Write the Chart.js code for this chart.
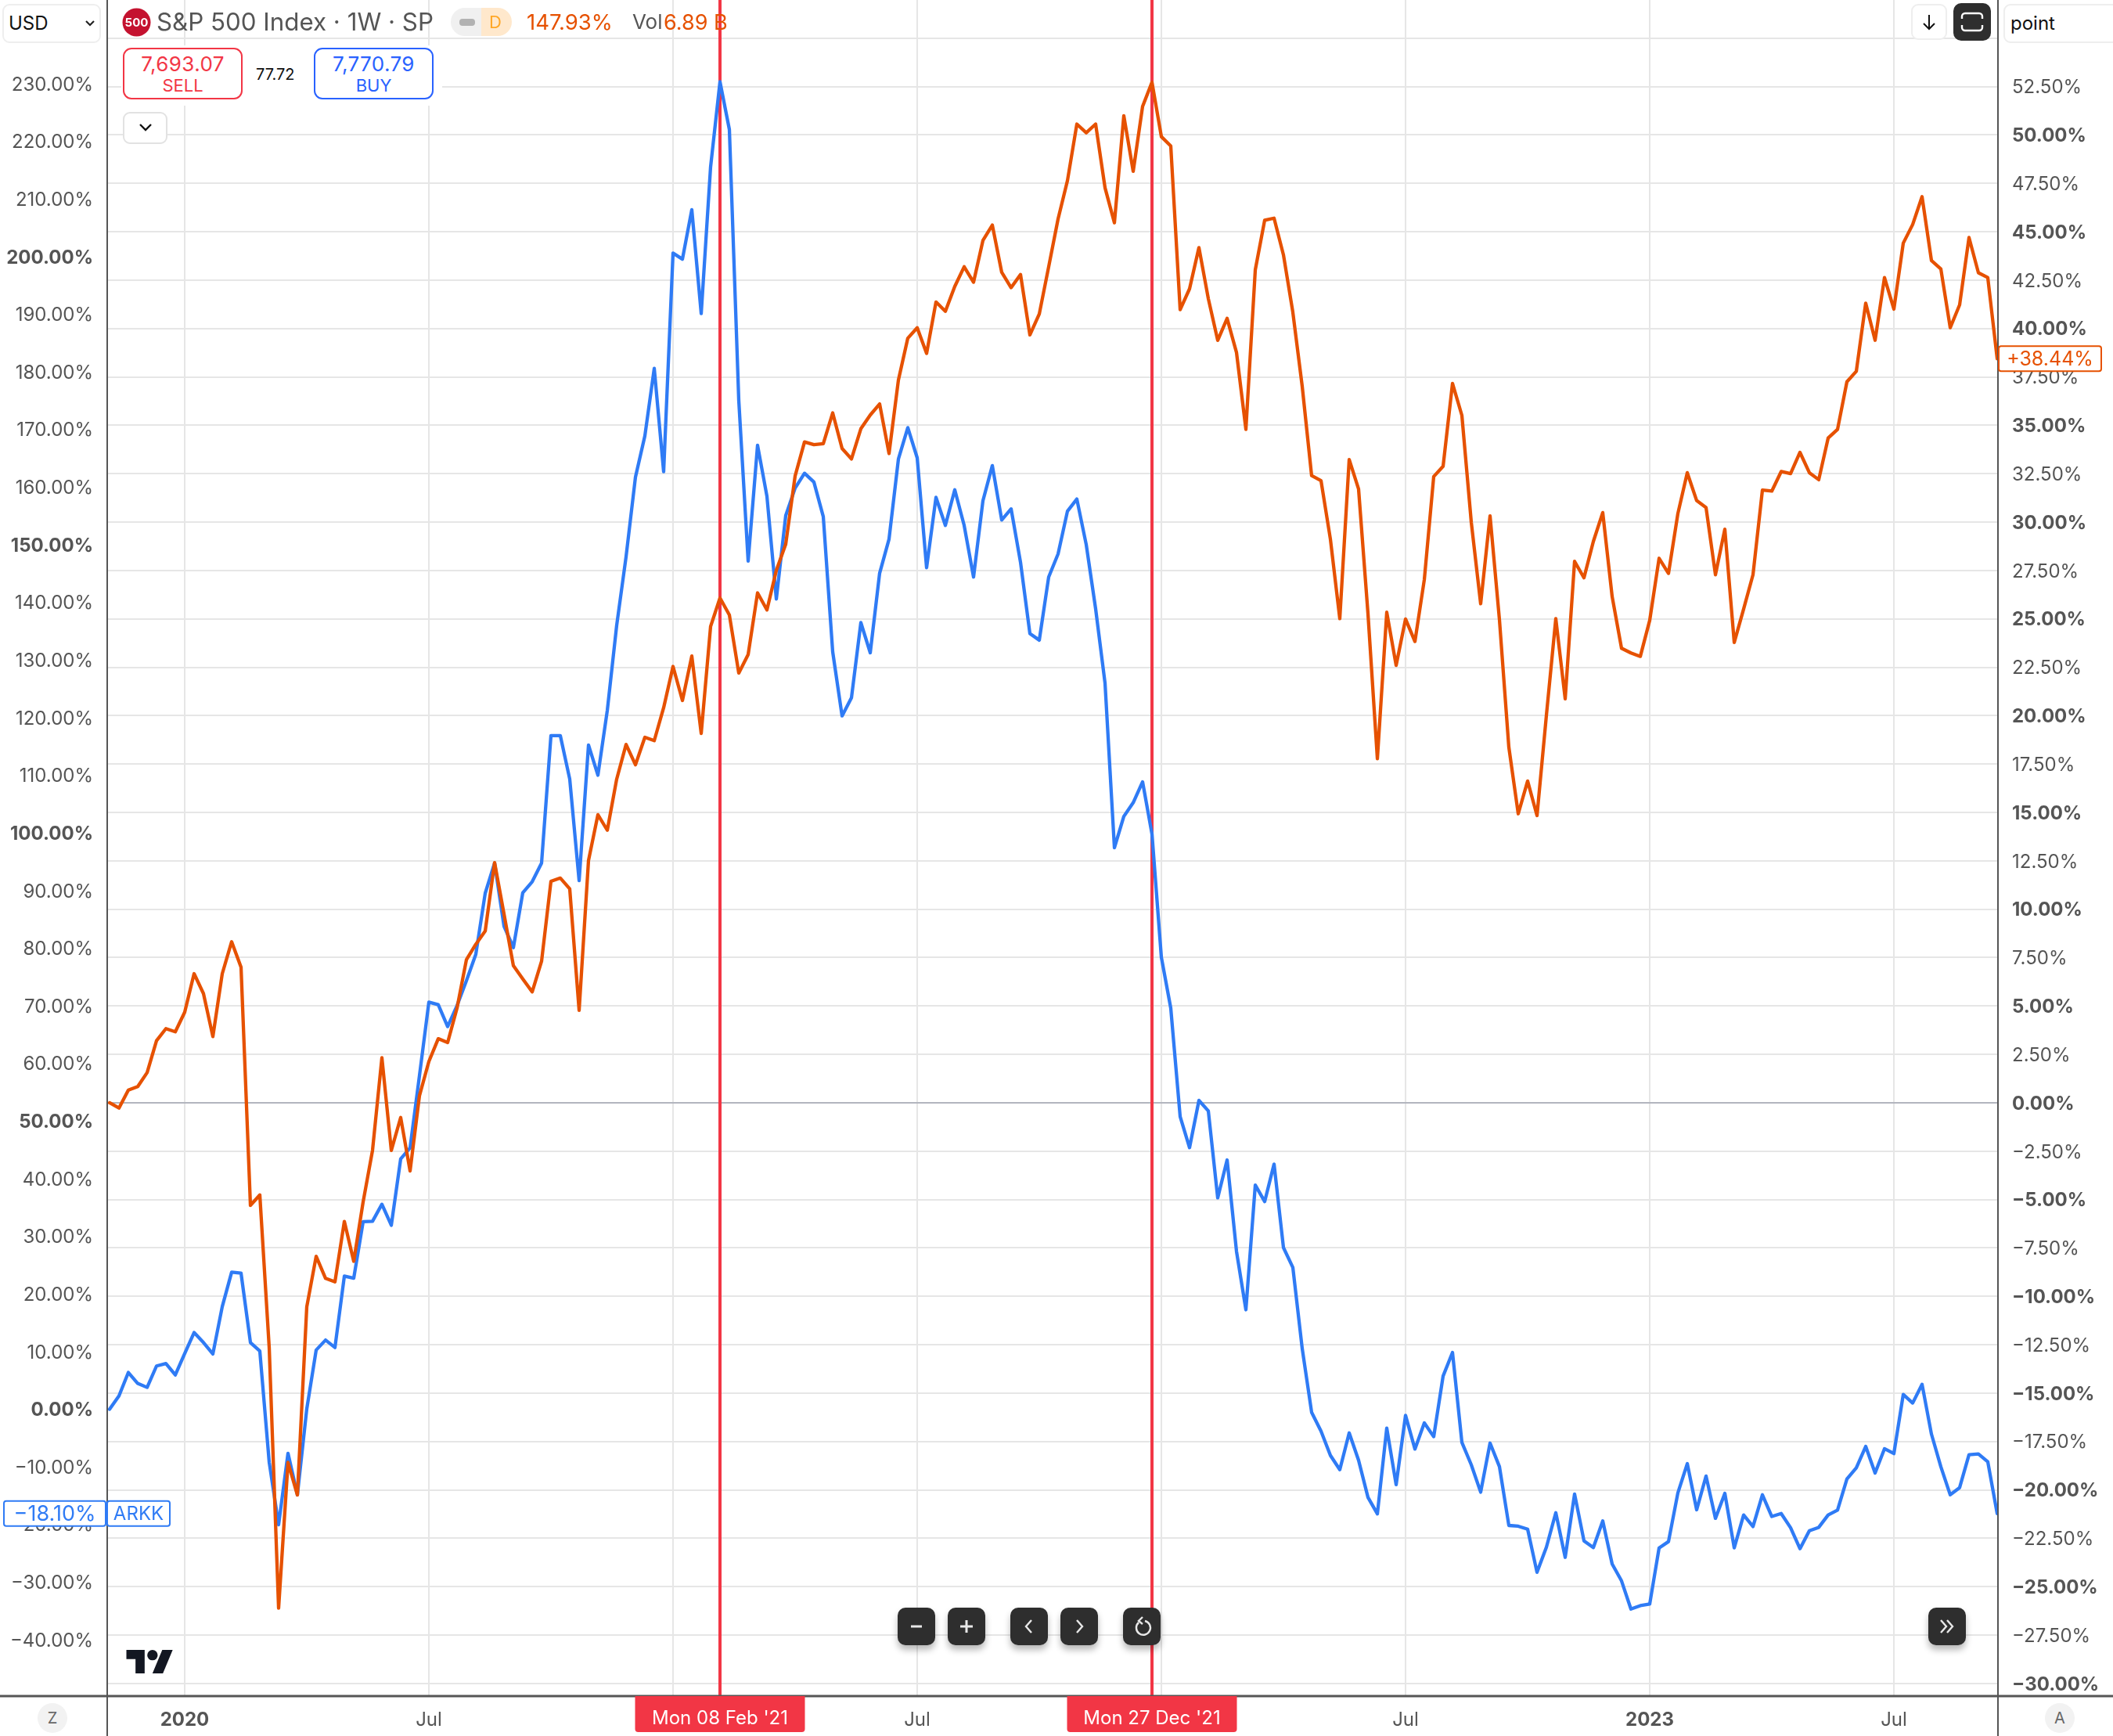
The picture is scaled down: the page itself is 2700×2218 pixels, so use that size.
<!DOCTYPE html>
<html>
<head>
<meta charset="utf-8">
<script src="https://cdn.jsdelivr.net/npm/chart.js@4/dist/chart.umd.min.js"></script>
<style>
html,body{margin:0;padding:0;background:#fff;width:2700px;height:2218px;overflow:hidden;font-family:Inter,sans-serif}
#wrap{position:relative;width:2700px;height:2218px}
canvas{position:absolute;left:0;top:0}
.a{position:absolute;white-space:nowrap;line-height:1}
.sel{position:absolute;box-sizing:border-box;border:2px solid #eeeeee;border-radius:9px;background:#fff}
.ctl{position:absolute;top:2054px;width:48px;height:48px;border-radius:10px;background:#2e2e2e;box-shadow:0 6px 8px rgba(0,0,0,.28)}
.ctl svg{position:absolute;left:0;top:0}
.box{position:absolute;box-sizing:border-box;top:61px;width:153px;height:66px;border:2px solid;border-radius:11px;background:#fff;text-align:center}
.box div{line-height:1}
</style>
</head>
<body>
<div id="wrap">
<canvas id="c" width="2700" height="2218"></canvas>

<div class="sel" style="left:3px;top:5px;width:126px;height:50px"></div>
<div class="a" style="left:11px;top:18px;font-size:24px;color:#111">USD</div>
<svg class="a" style="left:108px;top:24px" width="14" height="12"><path d="M2 3l5 5 5-5" fill="none" stroke="#222" stroke-width="2.2"/></svg>

<svg class="a" style="left:156px;top:10px" width="37" height="37"><circle cx="18.5" cy="18.5" r="18" fill="#c4122f"/><text x="18.5" y="24" font-family="Inter" font-weight="700" font-size="15" fill="#fff" text-anchor="middle">500</text></svg>
<div class="a" style="left:200px;top:13px;font-size:31.3px;color:#555">S&amp;P 500 Index · 1W · SP</div>
<div class="a" style="left:576px;top:10px;width:39px;height:36px;background:#f0f0f0;border-radius:18px 0 0 18px"></div>
<div class="a" style="left:587px;top:24px;width:20px;height:9px;background:#b2b2b2;border-radius:4px"></div>
<div class="a" style="left:615px;top:10px;width:39px;height:36px;background:#ffe8cc;border-radius:0 18px 18px 0"></div>
<div class="a" style="left:625px;top:17px;font-size:22px;color:#ffa726">D</div>
<div class="a" style="left:673px;top:15px;font-size:27.5px;color:#e65100">147.93%</div>
<div class="a" style="left:808px;top:15px;font-size:26px;color:#555">Vol</div>
<div class="a" style="left:848px;top:15px;font-size:27px;color:#e65100">6.89 B</div>

<div class="a" style="left:155px;top:58px;width:410px;height:77px;background:#fff"></div>
<div class="box" style="left:157px;border-color:#f23645;color:#f23645"><div style="font-size:26px;margin-top:6px;letter-spacing:.4px">7,693.07</div><div style="font-size:22px;margin-top:3px">SELL</div></div>
<div class="a" style="left:327px;top:85px;font-size:20px;color:#111">77.72</div>
<div class="box" style="left:401px;border-color:#2962ff;color:#2962ff"><div style="font-size:26px;margin-top:6px;letter-spacing:.4px">7,770.79</div><div style="font-size:22px;margin-top:3px">BUY</div></div>
<div class="sel" style="left:157px;top:143px;width:57px;height:41px;border-color:#e2e2e2"></div>
<svg class="a" style="left:176px;top:156px" width="20" height="14"><path d="M3 3l7 7 7-7" fill="none" stroke="#111" stroke-width="2.4"/></svg>

<div class="sel" style="left:2442px;top:5px;width:46px;height:46px;border-radius:9px"></div>
<svg class="a" style="left:2455px;top:16px" width="20" height="24"><path d="M10 3v18M3 14l7 7 7-7" fill="none" stroke="#111" stroke-width="2"/></svg>
<div class="a" style="left:2496px;top:4px;width:48px;height:48px;border-radius:10px;background:#2e2e2e"></div>
<svg class="a" style="left:2504px;top:14px" width="32" height="28"><path d="M3 10V7a4 4 0 0 1 4-4h18a4 4 0 0 1 4 4v3M3 18v3a4 4 0 0 0 4 4h18a4 4 0 0 0 4-4v-3" fill="none" stroke="#fff" stroke-width="2.4"/></svg>
<div class="sel" style="left:2560px;top:5px;width:150px;height:50px"></div>
<div class="a" style="left:2569px;top:18px;font-size:24px;color:#111">point</div>

<svg class="a" style="left:161px;top:2108px" width="61" height="30" viewBox="0 4 36 18"><path d="M14 22H7V11H0V4h14v18zM28 22h-8l7.5-18h8L28 22z" fill="#131722"/><circle cx="20" cy="8" r="4" fill="#131722"/></svg>

<div class="ctl" style="left:1147px"><svg width="48" height="48"><path d="M17 24h14" stroke="#e8e8e8" stroke-width="3"/></svg></div>
<div class="ctl" style="left:1211px"><svg width="48" height="48"><path d="M16 24h16M24 16v16" stroke="#e8e8e8" stroke-width="3"/></svg></div>
<div class="ctl" style="left:1291px"><svg width="48" height="48"><path d="M27 16l-7 8 7 8" fill="none" stroke="#e8e8e8" stroke-width="2.4"/></svg></div>
<div class="ctl" style="left:1355px"><svg width="48" height="48"><path d="M21 16l7 8-7 8" fill="none" stroke="#e8e8e8" stroke-width="2.4"/></svg></div>
<div class="ctl" style="left:1435px"><svg width="48" height="48"><path d="M20 19a9 9 0 1 0 8-2M25 12l-5 5 5 4" fill="none" stroke="#e8e8e8" stroke-width="2.4"/></svg></div>
<div class="ctl" style="left:2464px"><svg width="48" height="48"><path d="M16 16l7 8-7 8M24 16l7 8-7 8" fill="none" stroke="#e8e8e8" stroke-width="2.4"/></svg></div>

<div class="a" style="left:48px;top:2176px;width:38px;height:38px;border-radius:19px;background:#f2f2f2;text-align:center;line-height:38px;font-size:20px;color:#666">Z</div>
<div class="a" style="left:2613px;top:2176px;width:38px;height:38px;border-radius:19px;background:#f2f2f2;text-align:center;line-height:38px;font-size:20px;color:#666">A</div>
</div>

<script>
const arkkName = 'ARKK';
const spxName = 'S&P 500 Index';
const arkkValues = [
0.00,2.30,6.37,4.47,3.78,7.50,7.93,5.94,9.67,13.30,
11.57,9.58,17.81,23.78,23.61,11.57,10.10,-9.21,-20.04,-7.65,
-14.84,0.05,10.27,12.00,10.70,23.09,22.74,32.53,32.61,35.56,
31.92,43.44,45.34,57.90,70.63,70.20,66.39,70.03,74.36,78.95,
89.53,94.77,83.82,80.10,89.62,91.53,94.77,116.87,116.87,109.34,
91.72,115.25,110.01,121.25,136.02,147.93,161.74,168.89,180.60,162.69,
200.61,199.56,208.14,190.13,215.57,230.34,222.05,175.08,147.17,167.27,
158.41,140.59,155.07,159.84,162.41,160.88,154.88,131.44,120.30,123.44,
136.49,131.26,145.07,150.98,164.89,170.32,165.08,146.02,158.22,153.36,
159.55,153.36,144.40,157.64,163.74,154.31,156.22,146.97,134.59,133.45,
144.40,148.40,155.83,157.93,150.02,138.88,126.01,97.43,102.86,105.25,
108.87,99.82,78.40,69.60,50.78,45.39,53.58,51.76,36.68,43.25,
27.39,17.25,38.89,36.03,42.53,28.04,24.60,10.50,-0.55,-3.80,
-8.02,-10.49,-4.12,-8.87,-15.30,-18.16,-3.28,-13.09,-1.07,-6.92,
-2.37,-4.77,5.75,9.85,-5.75,-9.65,-14.39,-5.88,-9.97,-20.17,
-20.30,-20.82,-28.30,-23.94,-17.96,-25.70,-14.72,-22.84,-24.01,-19.40,
-26.87,-29.79,-34.67,-34.08,-33.82,-24.07,-22.97,-14.52,-9.45,-17.45,
-11.60,-18.94,-14.59,-24.07,-18.36,-20.37,-14.85,-18.62,-18.10,-20.56,
-24.20,-21.08,-20.50,-18.36,-17.51,-12.12,-10.17,-6.46,-11.08,-6.85,
-7.70,2.57,1.07,4.32,-4.32,-9.97,-14.85,-13.61,-7.89,-7.76,
-9.13,-18.10];
const spxValues = [
0.00,-0.27,0.66,0.84,1.56,3.21,3.83,3.67,4.68,6.67,
5.64,3.42,6.67,8.32,7.00,-5.30,-4.76,-12.65,-26.11,-18.58,
-20.26,-10.54,-7.93,-9.07,-9.25,-6.13,-8.19,-5.12,-2.46,2.33,
-2.46,-0.76,-3.52,0.37,2.13,3.31,3.11,4.89,7.39,8.19,
8.87,12.41,9.76,7.08,6.40,5.73,7.31,11.44,11.61,11.05,
4.78,12.52,14.88,14.08,16.72,18.51,17.46,18.88,18.71,20.41,
22.54,20.78,23.08,19.08,24.61,26.08,25.20,22.20,23.16,26.34,
25.46,27.50,28.86,32.38,34.14,34.00,34.05,35.64,33.80,33.26,
34.82,35.53,36.10,33.54,37.34,39.50,40.04,38.71,41.37,40.89,
42.17,43.19,42.39,44.55,45.34,42.90,42.11,42.79,39.67,40.75,
43.19,45.66,47.64,50.56,50.11,50.56,47.27,45.46,50.99,48.12,
51.47,52.72,49.91,49.43,40.97,42.05,44.18,41.54,39.39,40.52,
38.76,34.79,43.03,45.59,45.70,43.80,40.84,37.00,32.40,32.14,
29.11,25.01,33.23,31.70,25.27,17.78,25.34,22.60,24.99,23.83,
27.03,32.35,32.88,37.16,35.51,29.99,25.78,30.32,24.95,18.37,
14.93,16.62,14.84,20.02,25.01,20.87,27.97,27.12,29.00,30.49,
26.15,23.48,23.24,23.06,24.92,28.13,27.35,30.44,32.55,31.11,
30.75,27.28,29.63,23.78,25.51,27.28,31.65,31.60,32.61,32.50,
33.60,32.55,32.19,34.34,34.79,37.25,37.79,41.31,39.39,42.63,
41.00,44.41,45.37,46.81,43.51,43.08,40.04,41.22,44.70,42.88,
42.63,38.44];
const xTickWeeks = [8,34,60,86,112,138,164,190];
const xTickLabels = ['2020','Jul','2021','Jul','2022','Jul','2023','Jul'];
const xBoldLabels = ['2020','2021','2022','2023'];
const crosshairWeeks = [65,111];
const crosshairLabels = ["Mon 08 Feb '21","Mon 27 Dec '21"];
const leftTicks = [230,220,210,200,190,180,170,160,150,140,130,120,110,100,90,80,70,60,50,40,30,20,10,0,-10,-20,-30,-40];
const leftBold = [200,150,100,50,0];
const rightTicks = [55,52.5,50,47.5,45,42.5,40,37.5,35,32.5,30,27.5,25,22.5,20,17.5,15,12.5,10,7.5,5,2.5,0,-2.5,-5,-7.5,-10,-12.5,-15,-17.5,-20,-22.5,-25,-27.5,-30];
const rightHiddenTicks = [55];

const BLUE='#2f7bf5', ORANGE='#e65100', RED='#f23645', FONT='Inter';
const pct = v => (v<0?'\u2212':'')+Math.abs(v).toFixed(2)+'%';
const signed = v => (v<0?'\u2212':'+')+Math.abs(v).toFixed(2)+'%';
const noPad = s => {s.paddingTop=0;s.paddingBottom=0;s.paddingLeft=0;s.paddingRight=0;};

const overlay = {
  id:'overlay',
  beforeDatasetsDraw(ch){
    const c=ch.ctx, x=ch.scales.x, a=ch.chartArea;
    c.save(); c.strokeStyle=RED; c.lineWidth=4;
    crosshairWeeks.forEach(w=>{const p=x.getPixelForValue(w);c.beginPath();c.moveTo(p,0);c.lineTo(p,a.bottom);c.stroke();});
    c.restore();
  },
  afterDraw(ch){
    const c=ch.ctx, x=ch.scales.x, a=ch.chartArea, yl=ch.scales.y, yr=ch.scales.y1;
    c.save();
    c.strokeStyle='#555'; 
    c.lineWidth=2; c.beginPath(); c.moveTo(137,0); c.lineTo(137,2218); c.moveTo(2553,0); c.lineTo(2553,2218); c.stroke();
    c.lineWidth=3; c.beginPath(); c.moveTo(0,a.bottom); c.lineTo(2700,a.bottom); c.stroke();
    c.textAlign='center'; c.textBaseline='middle';
    c.font='24px '+FONT;
    crosshairWeeks.forEach((w,i)=>{
      const p=x.getPixelForValue(w), bw=217;
      c.fillStyle=RED; c.beginPath(); c.roundRect(p-bw/2,a.bottom,bw,46,[0,0,4,4]); c.fill();
      c.fillStyle='#fff'; c.fillText(crosshairLabels[i],p,a.bottom+29);
    });
    const tag=(l,w,yc,color,text,size)=>{
      c.fillStyle='#fff'; c.strokeStyle=color; c.lineWidth=2;
      c.beginPath(); c.roundRect(l,yc-16,w,32,3); c.fill(); c.stroke();
      c.font=size+'px '+FONT;
      c.fillStyle=color; c.fillText(text,l+w/2,yc+1);
    };
    const ly=yl.getPixelForValue(arkkValues[arkkValues.length-1]);
    const ry=yr.getPixelForValue(spxValues[spxValues.length-1]);
    tag(5,130,ly,BLUE,pct(arkkValues[arkkValues.length-1]),27);
    tag(137,80,ly,BLUE,arkkName,24);
    tag(2554,131,ry,ORANGE,signed(spxValues[spxValues.length-1]),25);
    c.restore();
  }
};

new Chart(document.getElementById('c'),{
  type:'line',
  data:{datasets:[
    {label:spxName,yAxisID:'y1',data:spxValues.map((v,i)=>({x:i,y:v})),borderColor:ORANGE,borderWidth:4.3,pointRadius:0,tension:0,borderJoinStyle:'round',borderCapStyle:'round'},
    {label:arkkName,yAxisID:'y',data:arkkValues.map((v,i)=>({x:i,y:v})),borderColor:BLUE,borderWidth:4.3,pointRadius:0,tension:0,borderJoinStyle:'round',borderCapStyle:'round'}
  ]},
  plugins:[overlay],
  options:{
    responsive:false,animation:false,devicePixelRatio:1,
    layout:{padding:0},
    plugins:{legend:{display:false},tooltip:{enabled:false},title:{display:false}},
    scales:{
      x:{type:'linear',position:'bottom',min:-0.1667,max:201.083,
        afterBuildTicks:s=>{s.ticks=xTickWeeks.map(v=>({value:v}));},
        afterFit:s=>{s.height=51;noPad(s);},
        grid:{color:'#e6e6e6',lineWidth:2,drawTicks:false},border:{display:false},
        ticks:{autoSkip:false,maxRotation:0,padding:16,color:'#555',
          callback:(v)=>xTickLabels[xTickWeeks.indexOf(v)],
          font:ctx=>({family:FONT,size:24,weight:xBoldLabels.includes(xTickLabels[ctx.index])?'700':'400'})}
      },
      y:{type:'linear',position:'left',min:-49.78,max:244.53,
        afterBuildTicks:s=>{s.ticks=leftTicks.map(v=>({value:v}));},
        afterFit:s=>{s.width=138;noPad(s);},
        grid:{display:false,drawTicks:false},border:{display:false},
        ticks:{autoSkip:false,padding:19,labelOffset:1.5,color:'#555',callback:v=>pct(v),
          font:ctx=>({family:FONT,size:24,weight:leftBold.includes(ctx.tick&&ctx.tick.value)?'700':'400'})}
      },
      y1:{type:'linear',position:'right',min:-30.65,max:56.97,
        afterBuildTicks:s=>{s.ticks=rightTicks.map(v=>({value:v}));},
        afterFit:s=>{s.width=147;noPad(s);},
        grid:{lineWidth:2,drawTicks:false,color:ctx=>ctx.tick&&ctx.tick.value===0?'#b2b5be':'#e6e6e6'},border:{display:false},
        ticks:{autoSkip:false,padding:18,labelOffset:1.5,color:'#555',callback:v=>rightHiddenTicks.includes(v)?'':pct(v),
          font:ctx=>({family:FONT,size:24,weight:(ctx.tick&&ctx.tick.value%5===0)?'700':'400'})}
      }
    }
  }
});
</script>
</body>
</html>
